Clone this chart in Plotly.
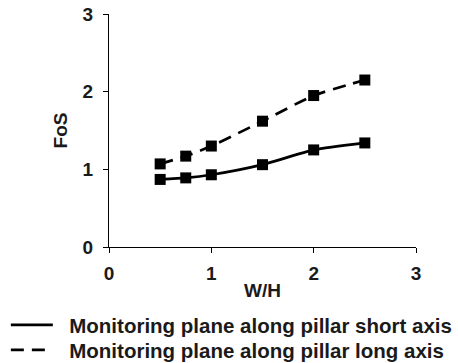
import plotly.graph_objects as go

wh = [0.5, 0.75, 1.0, 1.5, 2.0, 2.5]
fos_short = [0.87, 0.89, 0.93, 1.06, 1.25, 1.34]
fos_long = [1.07, 1.17, 1.30, 1.62, 1.95, 2.15]
names = ["Monitoring plane along pillar short axis",
         "Monitoring plane along pillar long axis"]
x_ticks = [0, 1, 2, 3]
y_ticks = [0, 1, 2, 3]

font = "Liberation Sans, Arial, sans-serif"
txt = "#1a1a1a"
dash_long = "13px,8px"
fig = go.Figure()
for ys, dash, nm, lg in [(fos_short, "solid", names[0], "legend"),
                         (fos_long, dash_long, names[1], "legend2")]:
    fig.add_trace(go.Scatter(
        x=wh, y=ys, mode="lines+markers", showlegend=False,
        line=dict(color="black", width=2.7, dash=dash, shape="spline", smoothing=0.6),
        marker=dict(symbol="square", size=11, color="black")))
    fig.add_trace(go.Scatter(
        x=[None], y=[None], mode="lines", name="&nbsp;&nbsp;" + nm, legend=lg,
        line=dict(color="black", width=2.7, dash=dash)))

tf = dict(family=font, size=19, color=txt, weight="bold")
axis_common = dict(showline=True, linecolor="black", linewidth=1.3, ticks="outside",
                   ticklen=5, tickcolor="black", tickwidth=1.3, showgrid=False, zeroline=False,
                   tickfont=tf)
lf = dict(family=font, size=20.5, color=txt, weight="bold")
leg_common = dict(x=-0.336, xanchor="left", yanchor="middle", font=lf,
                  itemwidth=42, bgcolor="rgba(0,0,0,0)")
fig.update_layout(
    width=458, height=363,
    margin=dict(l=109, r=42, t=14, b=116, autoexpand=False),
    plot_bgcolor="white", paper_bgcolor="white",
    xaxis=dict(range=[0, 3], tickvals=x_ticks, ticklabelstandoff=4, **axis_common,
               title=dict(text="W/H", font=tf, standoff=0)),
    yaxis=dict(range=[0, 3], tickvals=y_ticks, ticklabelstandoff=6, **axis_common,
               title=dict(text="FoS", font=tf, standoff=9)),
    legend=dict(y=-0.335, **leg_common),
    legend2=dict(y=-0.442, **leg_common),
)
fig.write_html("out.html")
